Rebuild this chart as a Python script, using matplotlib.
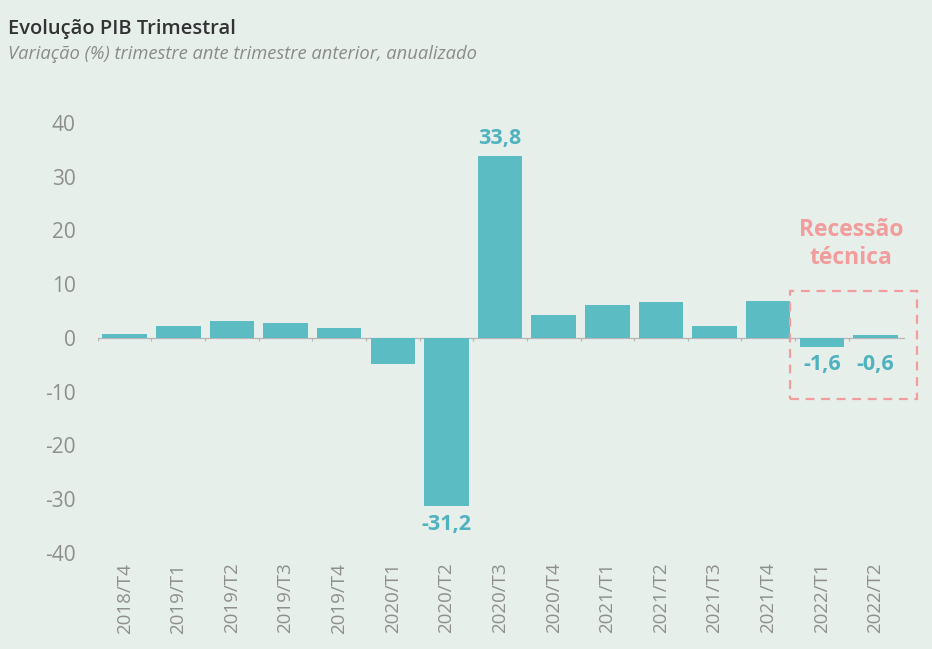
import matplotlib
matplotlib.use('Agg')
import matplotlib.pyplot as plt
from matplotlib.patches import Rectangle

# data
quarters = ['2018/T4', '2019/T1', '2019/T2', '2019/T3', '2019/T4',
            '2020/T1', '2020/T2', '2020/T3', '2020/T4',
            '2021/T1', '2021/T2', '2021/T3', '2021/T4',
            '2022/T1', '2022/T2']
# bar heights as drawn (the last bar is drawn just above zero)
growth = [0.8, 2.3, 3.1, 2.8, 1.9, -4.8, -31.2, 33.8, 4.2,
          6.2, 6.7, 2.3, 6.9, -1.6, 0.6]
yticks = [-40, -30, -20, -10, 0, 10, 20, 30, 40]
labelled = {'2020/T2': '-31,2', '2020/T3': '33,8',
            '2022/T1': '-1,6', '2022/T2': '-0,6'}

bg = '#e7efeb'
bar_color = '#5cbcc3'
label_color = '#4fb2bd'
red = '#f19d9b'
grey = '#8e8e8e'

plt.rcParams['font.family'] = ['Open Sans', 'DejaVu Sans']
plt.rcParams['axes.unicode_minus'] = False

fig = plt.figure(figsize=(9.32, 6.49), dpi=100, facecolor=bg)
ax = fig.add_axes([0.105, 0.148, 0.866, 0.6625], facecolor=bg)

x = list(range(len(quarters)))
ax.bar(x, growth, width=0.83, color=bar_color, zorder=2)

# zero line with small separators
ax.axhline(0, color='#b5b5b5', lw=0.9, zorder=1)
ax.vlines([i - 0.5 for i in x], -0.6, 0, color='#b5b5b5', lw=0.9, zorder=1)

ax.set_xlim(-0.5, 14.55)
ax.set_ylim(-40, 40)
ax.set_yticks(yticks)
ax.set_yticklabels([str(t) for t in yticks])
ax.set_xticks(x)
ax.set_xticklabels(quarters, rotation=90, va='top')
ax.tick_params(axis='y', length=0, pad=16, labelsize=15, labelcolor=grey)
ax.tick_params(axis='x', length=0, pad=7, labelsize=13.5, labelcolor=grey)
for s in ax.spines.values():
    s.set_visible(False)

# value labels
for i, q in enumerate(quarters):
    if q not in labelled:
        continue
    v = growth[i]
    if q == '2020/T3':
        ax.annotate(labelled[q], (i, v), xytext=(0, 5), textcoords='offset points',
                    ha='center', va='bottom', fontsize=15.5, fontweight='bold', color=label_color)
    elif q == '2020/T2':
        ax.annotate(labelled[q], (i, v), xytext=(0, -6), textcoords='offset points',
                    ha='center', va='top', fontsize=15.5, fontweight='bold', color=label_color)
    else:
        ax.annotate(labelled[q], (i, -1.6), xytext=(0, -13), textcoords='offset points',
                    ha='center', va='center', fontsize=15.5, fontweight='bold', color=label_color)

# recession box
ax.add_patch(Rectangle((12.41, -11.3), 2.37, 19.95, fill=False, ls=(0, (4, 3)),
                       ec=red, lw=1.6, clip_on=False, zorder=3))
ax.text(13.55, 17.5, 'Recessão\ntécnica', ha='center', va='center', fontsize=16.5,
        fontweight='bold', color=red, linespacing=1.2)

fig.text(0.009, 0.955, 'Evolução PIB Trimestral', fontsize=14.5, color='#333333',
         fontweight='semibold', ha='left', va='center')
fig.text(0.009, 0.917, 'Variação (%) trimestre ante trimestre anterior, anualizado',
         fontsize=13.2, color='#8a8a8a', style='italic', ha='left', va='center')

fig.savefig('out.png', dpi=100, facecolor=bg)
